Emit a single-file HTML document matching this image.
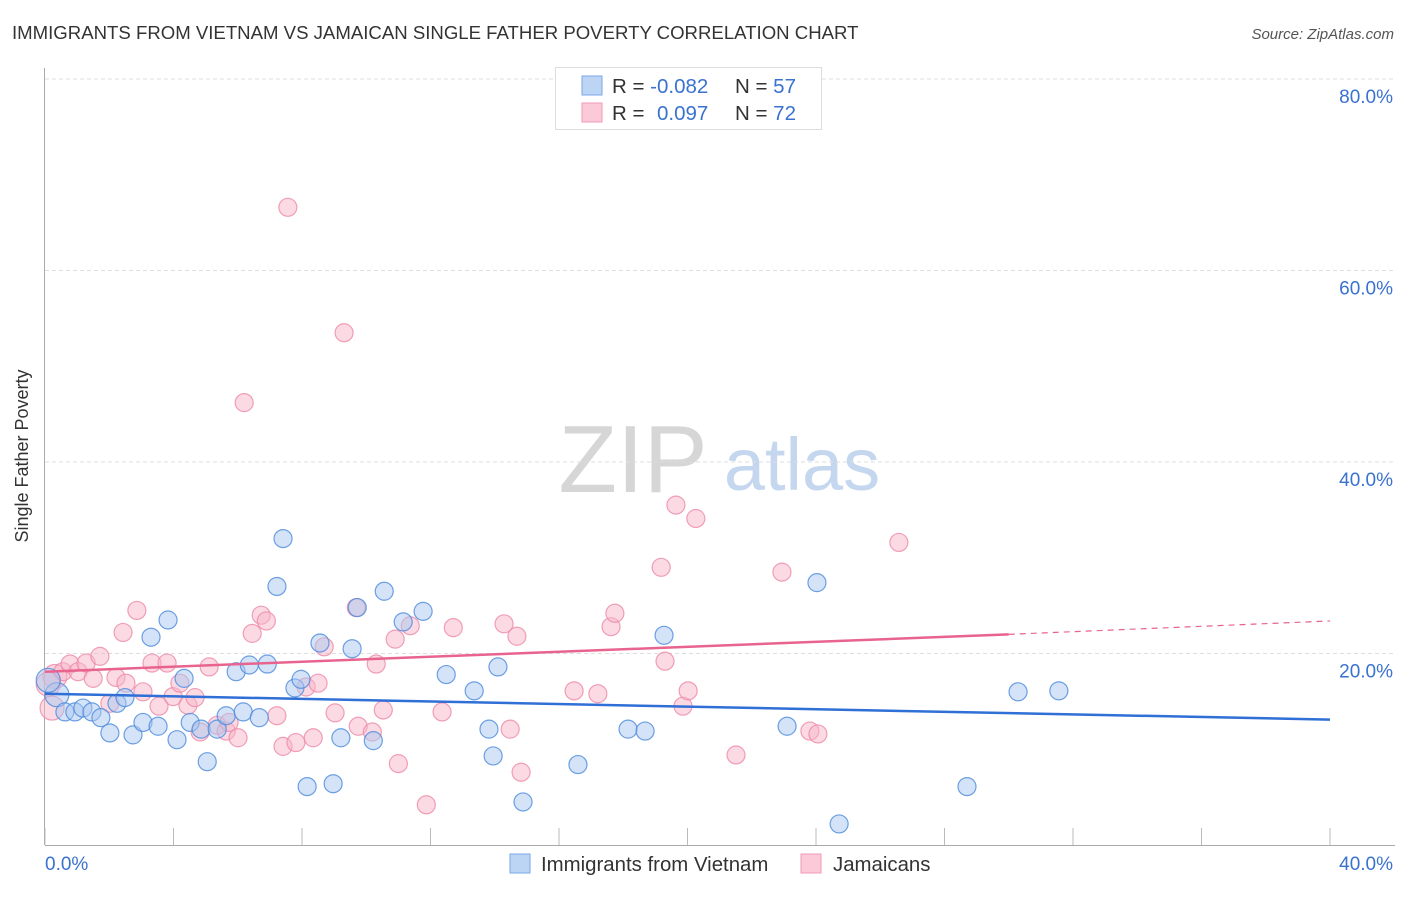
<!DOCTYPE html>
<html><head><meta charset="utf-8"><style>
body{margin:0;background:#fff;font-family:"Liberation Sans",sans-serif;}
svg text{font-family:"Liberation Sans",sans-serif;}
</style></head><body>
<svg id="c" width="1406" height="892" xmlns="http://www.w3.org/2000/svg">
<text x="12" y="39" font-size="18.6" fill="#333">IMMIGRANTS FROM VIETNAM VS JAMAICAN SINGLE FATHER POVERTY CORRELATION CHART</text>
<text x="1394" y="39" font-size="15" fill="#555" text-anchor="end" font-style="italic">Source: ZipAtlas.com</text>
<g>
<text x="633" y="492" font-size="96" fill="#d6d6d6" font-family="Liberation Serif" text-anchor="middle">ZIP</text>
<text x="802" y="490" font-size="74" fill="#c5d7ef" text-anchor="middle">atlas</text>
</g>
<g id="grid"></g>
<g id="axes"></g>
<g id="pts"></g>
<g id="trend"></g>
<text x="28" y="456" font-size="18" fill="#333" text-anchor="middle" transform="rotate(-90 28 456)">Single Father Poverty</text>
<text x="45" y="870" font-size="19" fill="#3a72d0">0.0%</text>
<text x="1393" y="870" font-size="19" fill="#3a72d0" text-anchor="end">40.0%</text>
<g>
<rect x="555.5" y="67.5" width="266" height="62" fill="#fff" stroke="#ddd"/>
<rect x="582" y="76" width="20" height="19" fill="#bcd5f5" stroke="#7aa7e6"/>
<rect x="582" y="103" width="20" height="19" fill="#fcc9d8" stroke="#f09ab5"/>
<text x="612" y="93" font-size="20.5" fill="#333">R = <tspan fill="#3a72d0">-0.082</tspan></text>
<text x="735" y="93" font-size="20.5" fill="#333">N = <tspan fill="#3a72d0">57</tspan></text>
<text x="612" y="120" font-size="20.5" fill="#333">R = <tspan fill="#3a72d0" x="657">0.097</tspan></text>
<text x="735" y="120" font-size="20.5" fill="#333">N = <tspan fill="#3a72d0">72</tspan></text>
</g>
<g>
<rect x="510" y="854" width="20" height="19" fill="#bcd5f5" stroke="#7aa7e6"/>
<text x="541" y="871" font-size="20.4" fill="#333">Immigrants from Vietnam</text>
<rect x="801" y="854" width="20" height="19" fill="#fcc9d8" stroke="#f09ab5"/>
<text x="833" y="871" font-size="20.4" fill="#333">Jamaicans</text>
</g>
</svg>
<script>
const yTicks=[20,40,60,80];
const yTickLabels=["20.0%","40.0%","60.0%","80.0%"];
const xTicks=[0,4,8,12,16,20,24,28,32,36,40];
const blueX=[0.37,0.62,0.93,1.18,1.46,1.74,2.02,2.24,2.49,2.74,3.05,3.3,3.52,3.83,4.11,4.33,4.52,4.86,5.05,5.36,5.64,5.95,6.17,6.36,6.67,6.92,7.22,7.41,7.78,7.97,8.16,8.56,8.97,9.21,9.56,9.72,10.22,10.56,11.15,11.77,12.49,13.36,13.82,13.95,14.1,14.88,16.59,18.15,18.68,19.27,23.1,24.03,24.72,28.7,30.29,31.56,0.1];
const blueY=[15.7,13.9,13.9,14.3,13.9,13.3,11.7,14.8,15.4,11.5,12.8,21.7,12.4,23.5,11.0,17.4,12.8,12.1,8.7,12.1,13.5,18.1,13.9,18.8,13.3,18.9,27.0,32.0,16.4,17.3,6.1,21.1,6.4,11.2,20.5,24.8,10.9,26.5,23.3,24.4,17.8,16.1,12.1,9.3,18.6,4.5,8.4,12.1,11.9,21.9,12.4,27.4,2.2,6.1,16.0,16.1,17.2];
const pinkX=[0.22,0.31,0.56,0.78,1.03,1.28,1.5,1.71,2.02,2.21,2.43,2.52,2.86,3.05,3.33,3.55,3.8,3.99,4.2,4.45,4.67,4.83,5.11,5.36,5.64,5.73,6.01,6.2,6.45,6.73,6.89,7.22,7.41,7.56,7.81,8.13,8.35,8.5,8.69,9.03,9.31,9.69,9.75,10.19,10.31,10.53,10.9,11.0,11.37,11.87,12.36,12.71,14.29,14.48,14.69,14.82,16.47,17.21,17.62,17.74,19.18,19.3,19.64,19.86,20.02,20.26,21.51,22.94,23.81,24.06,26.58,0.1];
const pinkY=[14.3,17.6,18.1,18.9,18.1,19.0,17.4,19.7,14.8,17.5,22.2,16.9,24.5,16.0,19.0,14.5,19.0,15.5,16.9,14.6,15.4,11.8,18.6,12.5,11.9,12.8,11.2,46.2,22.1,24.0,23.4,13.5,10.3,66.6,10.7,16.5,11.2,16.9,20.7,13.8,53.5,24.8,12.4,11.8,18.9,14.1,21.5,8.5,22.9,4.2,13.9,22.7,23.1,12.1,21.8,7.6,16.1,15.8,22.8,24.2,29.0,19.2,35.5,14.5,16.1,34.1,9.4,28.5,11.9,11.6,31.6,16.8];
const blueTrend=[15.8,13.1];
const pinkTrend=[18.1,22.0,23.4];
const NS="http://www.w3.org/2000/svg";
function X(v){return 45+v*(1285/40);}
function Y(v){return 845-v*(191.5/20);}
function mk(t,a,p){const e=document.createElementNS(NS,t);for(const k in a)e.setAttribute(k,a[k]);p.appendChild(e);return e;}
const grid=document.getElementById('grid');
yTicks.forEach((t,i)=>{
 const l=mk('line',{x1:45,x2:1395,y1:Y(t),y2:Y(t),stroke:'#ddd','stroke-dasharray':'4,3'},grid);
 
 
 const tx=mk('text',{x:1393,y:Y(t)+24,'font-size':19,fill:'#3a72d0','text-anchor':'end'},grid);
 tx.textContent=yTickLabels[i];
 
 
});
const axes=document.getElementById('axes');
const ax=mk('line',{x1:45,x2:1395,y1:845.5,y2:845.5,stroke:'#aaa'},axes);


const ay=mk('line',{x1:44.5,x2:44.5,y1:68,y2:845,stroke:'#aaa'},axes);


xTicks.forEach(t=>{
 const l=mk('line',{x1:X(t),x2:X(t),y1:828,y2:845,stroke:'#bbb'},axes);
 
 
});
const pts=document.getElementById('pts');
function dots(xs,ys,fill,stroke,name){
 xs.forEach((x,i)=>{
  const r=(x<0.5)?12:9;
  const c=mk('circle',{cx:X(x),cy:Y(ys[i]),r:r,fill:fill,'fill-opacity':0.5,stroke:stroke,'stroke-width':1.2,'stroke-opacity':0.8},pts);
  
  
 });
}
dots(pinkX,pinkY,'#f8b6ca','#ee88a8','point-jamaicans');
dots(blueX,blueY,'#a9c8f0','#4b89dc','point-vietnam');
const tr=document.getElementById('trend');
const b=mk('line',{x1:X(0),y1:Y(blueTrend[0]),x2:X(40),y2:Y(blueTrend[1]),stroke:'#2f6fd6','stroke-width':2.5},tr);


const p=mk('line',{x1:X(0),y1:Y(pinkTrend[0]),x2:X(30),y2:Y(pinkTrend[1]),stroke:'#e8648e','stroke-width':2.5},tr);


const pd=mk('line',{x1:X(30),y1:Y(pinkTrend[1]),x2:X(40),y2:Y(pinkTrend[2]),stroke:'#e8648e','stroke-width':1.2,'stroke-dasharray':'6,5'},tr);


</script>
</body></html>
